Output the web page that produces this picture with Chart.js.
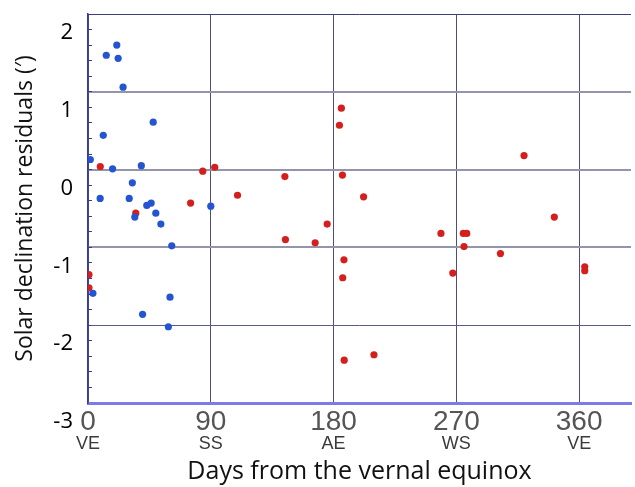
<!DOCTYPE html>
<html>
<head>
<meta charset="utf-8">
<script src="https://cdn.jsdelivr.net/npm/chart.js@4/dist/chart.umd.min.js"></script>
<style>
  html, body { margin: 0; padding: 0; background: #fff; }
  #wrap { width: 635px; height: 487px; position: relative; }
</style>
</head>
<body>
<div id="wrap"><canvas id="chart"></canvas></div>
<script>
// days from the vernal equinox / residuals (arcmin)
const BLUE_DAYS  = [21.1, 13.4, 22.1, 25.7, 47.8, 11.2, 1.7, 18.0, 39.1, 32.5, 8.9, 30.2, 43.1, 46.3, 90.0, 34.3, 49.7, 53.4, 61.4, 3.6, 60.1, 40.0, 58.9];
const BLUE_RESID = [1.60, 1.47, 1.43, 1.06, 0.61, 0.44, 0.13, 0.01, 0.05, -0.17, -0.37, -0.37, -0.46, -0.43, -0.47, -0.61, -0.56, -0.70, -0.98, -1.59, -1.64, -1.86, -2.02];

const RED_DAYS  = [9.0, 84.1, 92.9, 75.2, 109.6, 35.0, 0.7, 0.7, 144.3, 144.7, 185.7, 184.3, 186.5, 202.0, 175.3, 166.5, 187.6, 186.7, 187.8, 209.6, 258.7, 275.1, 277.6, 275.6, 302.3, 267.4, 319.6, 341.8, 364.1, 364.1];
const RED_RESID = [0.04, -0.02, 0.03, -0.43, -0.33, -0.56, -1.35, -1.52, -0.09, -0.90, 0.79, 0.57, -0.07, -0.35, -0.70, -0.94, -1.16, -1.39, -2.45, -2.38, -0.82, -0.82, -0.82, -0.99, -1.08, -1.33, 0.18, -0.61, -1.25, -1.30];

const X_TICKS = [0, 90, 180, 270, 360];
const X_TICK_NAMES = ['VE', 'SS', 'AE', 'WS', 'VE'];
const Y_TICKS = [-3, -2, -1, 0, 1, 2];

const toPoints = (xs, ys) => xs.map((x, i) => ({ x, y: ys[i] }));
const setTicks = (vals) => (scale) => { scale.ticks = vals.map(v => ({ value: v })); };

const NARROW = "'Liberation Sans Narrow', 'Liberation Sans', Arial, sans-serif";
const LABEL = "'Open Sans', 'Noto Sans', sans-serif";

new Chart(document.getElementById('chart'), {
  type: 'scatter',
  data: {
    datasets: [
      {
        label: 'blue',
        data: toPoints(BLUE_DAYS, BLUE_RESID),
        backgroundColor: '#2454d0',
        borderWidth: 0,
        pointRadius: 3.6,
      },
      {
        label: 'red',
        data: toPoints(RED_DAYS, RED_RESID),
        backgroundColor: '#d41f1f',
        borderWidth: 0,
        pointRadius: 3.6,
      },
    ],
  },
  options: {
    responsive: true,
    maintainAspectRatio: false,
    animation: false,
    layout: { padding: { top: 14, right: 0, bottom: 0, left: 0 } },
    plugins: { legend: { display: false }, tooltip: { enabled: false } },
    scales: {
      x: {
        type: 'linear',
        position: 'bottom',
        min: 0,
        max: 398,
        afterBuildTicks: setTicks(X_TICKS),
        afterFit: (s) => { s.height = 30; },
        grid: { color: '#4d4d8c', lineWidth: 1, drawTicks: false },
        border: { color: '#7c7ce6', width: 3 },
        ticks: {
          padding: 2,
          color: '#555',
          font: { family: NARROW, size: 28 },
        },
      },
      x2: {
        type: 'linear',
        position: 'bottom',
        min: 0,
        max: 398,
        afterBuildTicks: setTicks(X_TICKS),
        afterFit: (s) => { s.height = 54; },
        grid: { display: false, drawTicks: false },
        border: { display: false },
        ticks: {
          padding: 0,
          color: '#3a3a3a',
          font: { family: NARROW, size: 18 },
          callback: (v) => X_TICK_NAMES[X_TICKS.indexOf(v)],
        },
        title: {
          display: true,
          text: 'Days from the vernal equinox',
          color: '#111',
          font: { family: LABEL, size: 25 },
          padding: { top: 3, bottom: 0 },
        },
      },
      y: {
        type: 'linear',
        position: 'left',
        min: -3,
        max: 2,
        afterBuildTicks: setTicks(Y_TICKS),
        afterFit: (s) => { s.width = 88; s.paddingTop = 0; s.paddingBottom = 0; },
        grid: {
          color: (ctx) => ctx.tick && ctx.tick.value === 2 ? '#3f3f78' : (ctx.tick && ctx.tick.value === -2 ? '#5a5a8a' : '#9494aa'),
          lineWidth: (ctx) => ctx.tick && (ctx.tick.value === 2 || ctx.tick.value === -2) ? 1 : 2,
          drawTicks: false,
        },
        border: { color: '#3a3a9c', width: 1.5 },
        ticks: {
          padding: 15,
          labelOffset: 19,
          color: '#000',
          font: { family: LABEL, size: 22 },
        },
        title: {
          display: true,
          text: 'Solar declination residuals (\u2032)',
          color: '#111',
          font: { family: LABEL, size: 23 },
          padding: { top: 12, bottom: 0 },
        },
      },
      yMinor: {
        type: 'linear',
        position: 'left',
        min: -3,
        max: 2,
        ticks: { display: false, stepSize: 0.2 },
        afterFit: (s) => { s.width = 0; s.paddingTop = 0; s.paddingBottom = 0; },
        grid: { color: '#3a3a9c', lineWidth: 1, drawTicks: false },
        border: { display: false, dash: [4, 2000] },
      },
    },
  },
});
</script>
</body>
</html>
